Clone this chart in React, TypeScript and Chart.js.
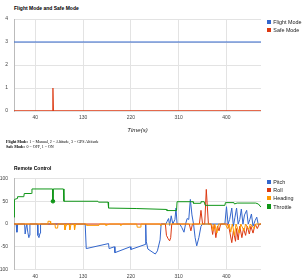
import React, { useEffect, useRef } from "react";
import { Chart, registerables } from "chart.js";
Chart.register(...registerables);

// ---------- data ----------
const timeTicks = [40, 130, 220, 310, 400];
const timeMin = 0;
const timeMax = 465;
const modeTicks = [0, 1, 2, 3, 4];
const rcTicks = [-100, -50, 0, 50, 100];

const flightMode: [number, number][] = [[0, 3], [465, 3]];
const safeMode: [number, number][] = [[0, 0], [72.5, 0], [73.3, 1], [74, 0], [465, 0]];

const throttleMarkerT = 73.3;
const throttle: [number, number][] = [
  [0, 15], [0.8, 54], [6, 56], [6.7, 60], [18.5, 60], [19.3, 67], [33, 67], [33.8, 77],
  [72.5, 77], [73.3, 50], [74, 77], [93, 77], [94, 50], [158, 50], [159, 48], [177, 48],
  [178, 35], [230, 34], [287, 32], [288, 29.5], [306, 29.5], [307, 49], [337, 49],
  [338, 45.5], [351, 45.5], [352, 49], [358, 49], [360, 41], [397, 41], [398, 47],
  [414, 47], [415, 44], [420, 46], [455, 46], [460, 44], [465, 37],
];

const pitch: [number, number][] = [
  [0, 0], [4, 0], [5.5, -18], [7, 0], [20, 0], [21, -22], [23, -5], [24, 0], [26, -18],
  [28, -30], [29, -25], [30, 0], [44, 0], [45, -25], [47, -30], [49, -20], [50, 0],
  [134, 0], [136, -54], [178, -43], [179, -54], [189, -50], [190, -63], [219, -50],
  [220, -56], [247, -45], [248, 0], [249, -38], [252, -55], [266, -66], [270, -59],
  [275, -35], [277, 0], [286, 0], [288, 5], [291, 12], [293, -3], [296, 18], [299, 0],
  [303, 10], [305, 35], [307, 0], [312, 0], [316, -8], [320, -18], [323, 0], [326, 12],
  [329, 10], [332, 54], [335, 20], [338, 0], [341, -30], [344, -48], [348, -30],
  [352, -5], [355, 0], [397, 0], [400, 38], [403, 0], [406, 10], [410, 35], [413, -5],
  [416, 15], [419, 35], [422, 0], [425, 10], [428, 33], [431, 0], [434, 20], [438, 30],
  [441, 0], [444, 10], [447, 22], [450, -5], [454, 8], [457, 15], [460, -2], [465, 0],
];

const roll: [number, number][] = [
  [0, 0], [285, 0], [287, -25], [290, -32], [293, -37], [295, -30], [297, 0], [330, 0],
  [333, -15], [336, 0], [349, 0], [352, 30], [355, 0], [359, 0], [362, 76], [366, 0],
  [371, 0], [374, -23], [377, 0], [380, -30], [383, -5], [386, -15], [389, 0], [402, 0],
  [405, -10], [410, -41], [413, -15], [417, -38], [419, -10], [422, -35], [425, -5],
  [429, -30], [432, -10], [436, -25], [439, -5], [443, -22], [446, -5], [450, -20],
  [454, 0], [458, -10], [462, 0], [465, 0],
];

const heading: [number, number][] = [
  [0, 0], [63, 0], [64, 6], [68, 6], [69, 0], [77, 0], [78, -9], [82, -9], [83, 0],
  [95, 0], [96, -13], [98, -3], [99, 0], [104, 0], [105, -13], [107, -3], [108, 0],
  [113, 0], [114, -13], [116, 0], [136, 0], [137, -3], [160, -3], [161, 0], [172, 0],
  [173, -3], [180, 0], [200, 0], [201, -3], [205, 0], [231, 0], [232, -7], [238, -7],
  [239, 0], [275, 0], [276, -3], [280, 0], [372, 0], [375, -15], [378, 0], [382, -20],
  [385, 0], [398, 0], [402, -10], [405, 0], [408, -18], [411, 0], [415, -25], [418, 0],
  [424, -20], [427, 0], [433, -15], [436, 0], [442, -12], [445, 0], [452, -10], [455, 0],
  [465, 0],
];

const modeLegend = ["Flight Mode", "Safe Mode"];
const rcLegend = ["Pitch", "Roll", "Heading", "Throttle"];

// ---------- styles ----------
const BLUE = "#3366cc";
const RED = "#dc3912";
const ORANGE = "#ff9900";
const GREEN = "#109618";
const FONT = "'Liberation Sans', Arial, sans-serif";

const toXY = (arr: [number, number][]) => arr.map(([x, y]) => ({ x, y }));

function xScale(showTitle: boolean): any {
  return {
    type: "linear",
    min: timeMin,
    max: timeMax,
    afterBuildTicks: (s: any) => {
      s.ticks = timeTicks.map((v) => ({ value: v }));
    },
    afterFit: (s: any) => {
      s.height = showTitle ? 29 : 10.5;
    },
    ticks: { font: { family: FONT, size: 5 }, color: "#444", padding: 4, maxRotation: 0, autoSkip: false },
    grid: { color: "#e3e3e3", drawTicks: false, lineWidth: 1 },
    border: { display: false },
    title: showTitle
      ? { display: true, text: "Time(s)", font: { family: FONT, size: 6, style: "italic" }, color: "#222", padding: { top: 0, bottom: 6.4 } }
      : { display: false },
  };
}

function yScale(ticks: number[]): any {
  return {
    type: "linear",
    min: ticks[0],
    max: ticks[ticks.length - 1],
    afterBuildTicks: (s: any) => {
      s.ticks = ticks.map((v) => ({ value: v }));
    },
    afterFit: (s: any) => {
      s.width = 14;
    },
    ticks: { font: { family: FONT, size: 5 }, color: "#444", padding: 6 },
    grid: { color: "#e3e3e3", drawTicks: false, lineWidth: 1 },
    border: { display: true, color: "#bbbbbb", width: 1 },
  };
}

function line(label: string, data: [number, number][], color: string, order: number, extra: any = {}): any {
  return {
    label,
    data: toXY(data),
    borderColor: color,
    backgroundColor: color,
    borderWidth: 1,
    pointRadius: 0,
    tension: 0,
    fill: false,
    order,
    ...extra,
  };
}

const Legend = ({ items, colors, top }: { items: string[]; colors: string[]; top: number }) => (
  <>
    {items.map((t, i) => (
      <React.Fragment key={t}>
        <div
          style={{
            position: "absolute",
            left: 266.7,
            top: top + i * 8.3 - 2.15,
            width: 4.3,
            height: 4.3,
            background: colors[i],
          }}
        />
        <div
          style={{
            position: "absolute",
            left: 273.3,
            top: top + i * 8.3 - 3,
            fontFamily: FONT,
            fontSize: "5.4px",
            lineHeight: "6px",
            color: "#222",
            whiteSpace: "nowrap",
          }}
        >
          {t}
        </div>
      </React.Fragment>
    ))}
  </>
);

export default function App() {
  const c1 = useRef<HTMLCanvasElement>(null);
  const c2 = useRef<HTMLCanvasElement>(null);

  useEffect(() => {
    document.body.style.margin = "0";
    const ch1 = new Chart(c1.current!, {
      type: "line",
      data: {
        datasets: [
          line("Flight Mode", flightMode, BLUE, 1),
          line("Safe Mode", safeMode, RED, 2, { borderWidth: 1.3 }),
        ],
      },
      options: {
        animation: false,
        responsive: false,
        devicePixelRatio: 1,
        layout: { padding: { left: 0, right: 44, top: 19, bottom: 0 } },
        plugins: { legend: { display: false }, title: { display: false }, tooltip: { enabled: false } },
        scales: { x: xScale(true), y: yScale(modeTicks) },
      } as any,
    });
    const ch2 = new Chart(c2.current!, {
      type: "line",
      data: {
        datasets: [
          line("Pitch", pitch, BLUE, 4),
          line("Roll", roll, RED, 3),
          line("Heading", heading, ORANGE, 2),
          line("Throttle", throttle, GREEN, 1, {
            pointRadius: (ctx: any) => (throttle[ctx.dataIndex] && throttle[ctx.dataIndex][0] === throttleMarkerT ? 1.8 : 0),
          }),
        ],
      },
      options: {
        animation: false,
        responsive: false,
        devicePixelRatio: 1,
        layout: { padding: { left: 0, right: 44, top: 18.5, bottom: 0 } },
        plugins: { legend: { display: false }, title: { display: false }, tooltip: { enabled: false } },
        scales: { x: xScale(false), y: yScale(rcTicks) },
      } as any,
    });
    return () => {
      ch1.destroy();
      ch2.destroy();
    };
  }, []);

  return (
    <div style={{ position: "relative", width: 305, height: 280, overflow: "hidden", background: "#fff" }}>
      <div
        style={{
          position: "absolute",
          left: 14,
          top: 4.5,
          fontFamily: FONT,
          fontWeight: "bold",
          fontSize: "5px",
          lineHeight: "6px",
          color: "#000",
          whiteSpace: "nowrap",
        }}
      >
        Flight Mode and Safe Mode
      </div>
      <canvas ref={c1} width={305} height={140} style={{ position: "absolute", left: 0, top: 0, width: 305, height: 140 }} />
      <Legend items={modeLegend} colors={[BLUE, RED]} top={22} />
      <div
        style={{
          position: "absolute",
          left: 6,
          top: 140.4,
          fontFamily: "'Liberation Serif', 'Times New Roman', serif",
          fontSize: "4px",
          lineHeight: "4.6px",
          color: "#000",
          whiteSpace: "nowrap",
        }}
      >
        <div>
          <b>Flight Mode:</b> 1 = Manual, 2 = Altitude, 3 = GPS Altitude
        </div>
        <div>
          <b>Safe Mode:</b> 0 = OFF, 1 = ON
        </div>
      </div>
      <div
        style={{
          position: "absolute",
          left: 14,
          top: 164.7,
          fontFamily: FONT,
          fontWeight: "bold",
          fontSize: "5px",
          lineHeight: "6px",
          color: "#000",
          whiteSpace: "nowrap",
        }}
      >
        Remote Control
      </div>
      <canvas ref={c2} width={305} height={120} style={{ position: "absolute", left: 0, top: 160, width: 305, height: 120 }} />
      <Legend items={rcLegend} colors={[BLUE, RED, ORANGE, GREEN]} top={181.7} />
    </div>
  );
}
